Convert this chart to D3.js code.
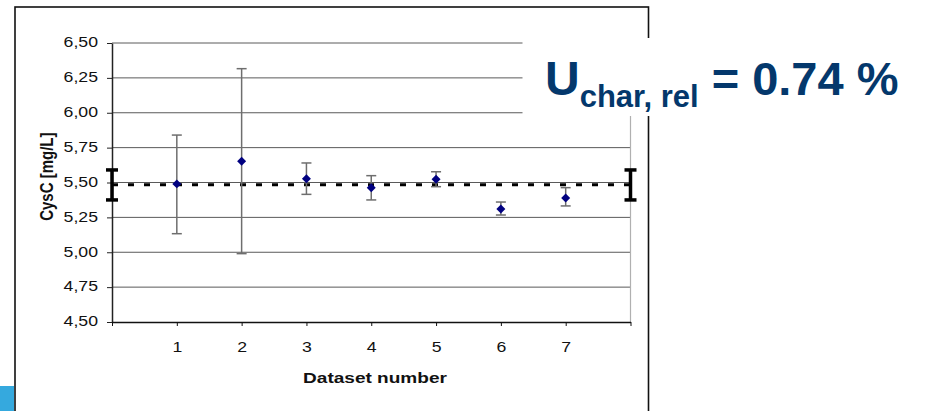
<!DOCTYPE html>
<html>
<head>
<meta charset="utf-8">
<script src="https://cdn.jsdelivr.net/npm/d3@7"></script>
<style>
  body { margin: 0; background: #fff; }
  svg { display: block; font-family: "Liberation Sans", Arial, sans-serif; }
</style>
</head>
<body>
<svg id="chart" width="926" height="411"></svg>
<script>
// data
const datasets = [1, 2, 3, 4, 5, 6, 7];
const means = [5.49, 5.652, 5.527, 5.463, 5.523, 5.31, 5.389];
const upper = [5.84, 6.316, 5.64, 5.549, 5.577, 5.36, 5.463];
const lower = [5.133, 4.99, 5.415, 5.375, 5.47, 5.267, 5.332];
const yTicks = [4.5, 4.75, 5.0, 5.25, 5.5, 5.75, 6.0, 6.25, 6.5];
const xTicks = [0, 1, 2, 3, 4, 5, 6, 7, 8];
const charMean = 5.484;
const charRange = [5.375, 5.59];

const svg = d3.select("#chart");
const stretch = 1.22;   // the original picture is a bit wider than tall

const x = d3.scaleLinear().domain([0, 8]).range([112, 630.5]);
const y = d3.scaleLinear().domain([4.5, 6.5]).range([322, 43]);

// slide frame and the blue corner
svg.append("rect")
    .attr("x", 15).attr("y", 7)
    .attr("width", 633.5).attr("height", 420)
    .attr("fill", "none").attr("stroke", "#111").attr("stroke-width", 1.6);

svg.append("rect")
    .attr("x", 0).attr("y", 386)
    .attr("width", 14).attr("height", 25)
    .attr("fill", "#35a9de");

// gridlines
svg.append("g")
    .selectAll("line")
    .data(yTicks.filter(d => d > 4.5))
    .join("line")
    .attr("x1", x(0)).attr("x2", x(8))
    .attr("y1", d => y(d)).attr("y2", d => y(d))
    .attr("stroke", "#5a5a5a").attr("stroke-width", 1);

// right edge of plot area
svg.append("line")
    .attr("x1", x(8)).attr("x2", x(8))
    .attr("y1", y(6.5)).attr("y2", y(4.5))
    .attr("stroke", "#b0b0b0").attr("stroke-width", 1.2);

// y axis
const yAxis = svg.append("g")
    .attr("transform", `translate(${x(0)},0)`)
    .call(d3.axisLeft(y)
        .tickValues(yTicks)
        .tickSize(5)
        .tickSizeOuter(0)
        .tickFormat(d => d.toFixed(2).replace(".", ",")));

yAxis.select(".domain").attr("stroke", "#222").attr("stroke-width", 1.5);
yAxis.selectAll(".tick line").attr("stroke", "#222");
yAxis.selectAll(".tick text")
    .attr("x", -14 / stretch)
    .attr("dy", 3.8)
    .attr("transform", `scale(${stretch},1)`)
    .attr("font-size", 14.5)
    .attr("font-family", "Liberation Sans, Arial, sans-serif")
    .attr("fill", "#111");

// x axis
const xAxis = svg.append("g")
    .attr("transform", `translate(0,${y(4.5)})`)
    .call(d3.axisBottom(x)
        .tickValues(xTicks)
        .tickSize(4)
        .tickSizeOuter(0)
        .tickFormat(d => (d >= 1 && d <= 7) ? d : ""));

xAxis.select(".domain").attr("stroke", "#111").attr("stroke-width", 1.6);
xAxis.selectAll(".tick line").attr("stroke", "#111");
xAxis.selectAll(".tick text")
    .attr("y", 29.7)
    .attr("dy", null)
    .attr("transform", `scale(${stretch},1)`)
    .attr("font-size", 14.5)
    .attr("font-family", "Liberation Sans, Arial, sans-serif")
    .attr("fill", "#111");

// axis titles
svg.append("text")
    .attr("transform", `translate(375,383.3) scale(1.27,1)`)
    .attr("text-anchor", "middle")
    .attr("font-size", 15)
    .attr("font-weight", "bold")
    .attr("fill", "#111")
    .text("Dataset number");

svg.append("text")
    .attr("transform", `translate(53,176.7) scale(1.25,1) rotate(-90)`)
    .attr("text-anchor", "middle")
    .attr("font-size", 15)
    .attr("font-weight", "bold")
    .attr("fill", "#111")
    .text("CysC [mg/L]");

// characterised value (dashed)
svg.append("line")
    .attr("x1", x(0)).attr("x2", x(8))
    .attr("y1", y(charMean)).attr("y2", y(charMean))
    .attr("stroke", "#000").attr("stroke-width", 3)
    .attr("stroke-dasharray", "6,10");

// error bars of each dataset
const bars = svg.append("g")
    .selectAll("g")
    .data(datasets.map((d, i) => ({ n: d, m: means[i], hi: upper[i], lo: lower[i] })))
    .join("g")
    .attr("stroke", "#6e6e6e").attr("stroke-width", 1.5);

bars.append("line")
    .attr("x1", d => x(d.n)).attr("x2", d => x(d.n))
    .attr("y1", d => y(d.hi)).attr("y2", d => y(d.lo));
bars.append("line")
    .attr("x1", d => x(d.n) - 5).attr("x2", d => x(d.n) + 5)
    .attr("y1", d => y(d.hi)).attr("y2", d => y(d.hi));
bars.append("line")
    .attr("x1", d => x(d.n) - 5).attr("x2", d => x(d.n) + 5)
    .attr("y1", d => y(d.lo)).attr("y2", d => y(d.lo));

// diamonds
svg.append("g")
    .selectAll("path")
    .data(datasets)
    .join("path")
    .attr("d", d3.symbol(d3.symbolSquare, 40))
    .attr("transform", (d, i) => `translate(${x(d)},${y(means[i])}) rotate(45)`)
    .attr("fill", "#000080");

// uncertainty I-beams at both ends
const beams = svg.append("g")
    .selectAll("g")
    .data([0, 8])
    .join("g")
    .attr("stroke", "#000").attr("stroke-width", 3.5);

beams.append("line")
    .attr("x1", d => x(d)).attr("x2", d => x(d))
    .attr("y1", y(charRange[1])).attr("y2", y(charRange[0]));
beams.append("line")
    .attr("x1", d => x(d) - 6).attr("x2", d => x(d) + 6)
    .attr("y1", y(charRange[1])).attr("y2", y(charRange[1]));
beams.append("line")
    .attr("x1", d => x(d) - 6).attr("x2", d => x(d) + 6)
    .attr("y1", y(charRange[0])).attr("y2", y(charRange[0]));

// text box laid over the chart
svg.append("rect")
    .attr("x", 522.5).attr("y", 38)
    .attr("width", 404).attr("height", 78)
    .attr("fill", "#fff");

const label = svg.append("text")
    .attr("x", 545).attr("y", 95)
    .attr("font-weight", "bold")
    .attr("fill", "#04386c");

label.append("tspan").attr("font-size", 48).text("U");
label.append("tspan").attr("font-size", 31).attr("dy", 12).text("char, rel");
label.append("tspan").attr("font-size", 47).attr("dy", -12).text(" = 0.74 %");
</script>
</body>
</html>
